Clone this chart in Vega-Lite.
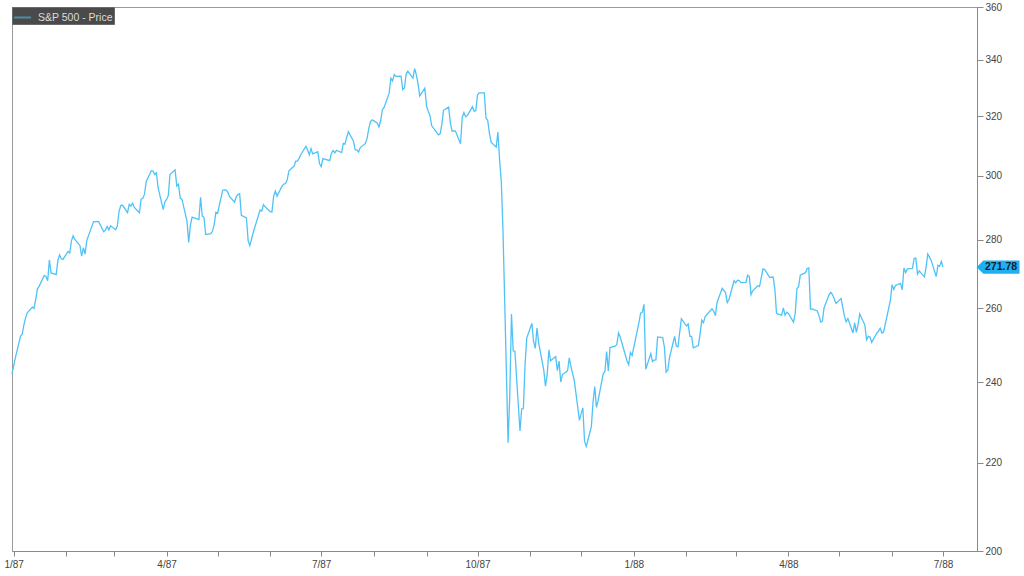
{
  "$schema": "https://vega.github.io/schema/vega-lite/v6.json",
  "width": 965,
  "height": 544,
  "padding": {"left": 3, "top": 2, "right": 0, "bottom": 0},
  "background": "white",
  "config": {
    "font": "Liberation Sans",
    "view": {"stroke": "#9a9a9a", "strokeWidth": 1}
  },
  "data": {"values": [
    {"date":"1986-12-31","close":242.17},
    {"date":"1987-01-02","close":246.45},{"date":"1987-01-05","close":252.19},{"date":"1987-01-06","close":252.78},{"date":"1987-01-07","close":255.33},{"date":"1987-01-08","close":257.28},{"date":"1987-01-09","close":258.73},
    {"date":"1987-01-12","close":260.30},{"date":"1987-01-13","close":259.95},{"date":"1987-01-14","close":262.64},{"date":"1987-01-15","close":265.49},{"date":"1987-01-16","close":266.28},
    {"date":"1987-01-19","close":269.34},{"date":"1987-01-20","close":269.04},{"date":"1987-01-21","close":267.84},{"date":"1987-01-22","close":273.91},{"date":"1987-01-23","close":270.10},
    {"date":"1987-01-26","close":269.61},{"date":"1987-01-27","close":273.75},{"date":"1987-01-28","close":275.40},{"date":"1987-01-29","close":274.24},{"date":"1987-01-30","close":274.08},
    {"date":"1987-02-02","close":276.45},{"date":"1987-02-03","close":275.99},{"date":"1987-02-04","close":279.64},{"date":"1987-02-05","close":281.16},{"date":"1987-02-06","close":280.04},
    {"date":"1987-02-09","close":278.16},{"date":"1987-02-10","close":275.07},{"date":"1987-02-11","close":277.54},{"date":"1987-02-12","close":275.62},{"date":"1987-02-13","close":279.70},
    {"date":"1987-02-17","close":285.49},{"date":"1987-02-18","close":285.42},{"date":"1987-02-19","close":285.57},{"date":"1987-02-20","close":285.48},
    {"date":"1987-02-23","close":282.38},{"date":"1987-02-24","close":282.88},{"date":"1987-02-25","close":284.00},{"date":"1987-02-26","close":282.96},{"date":"1987-02-27","close":284.20},
    {"date":"1987-03-02","close":283.00},{"date":"1987-03-03","close":284.12},{"date":"1987-03-04","close":288.62},{"date":"1987-03-05","close":290.52},{"date":"1987-03-06","close":290.66},
    {"date":"1987-03-09","close":288.30},{"date":"1987-03-10","close":290.86},{"date":"1987-03-11","close":290.31},{"date":"1987-03-12","close":291.22},{"date":"1987-03-13","close":289.89},
    {"date":"1987-03-16","close":288.23},{"date":"1987-03-17","close":292.47},{"date":"1987-03-18","close":292.78},{"date":"1987-03-19","close":294.08},{"date":"1987-03-20","close":298.17},
    {"date":"1987-03-23","close":301.64},{"date":"1987-03-24","close":301.52},{"date":"1987-03-25","close":300.38},{"date":"1987-03-26","close":300.93},{"date":"1987-03-27","close":296.13},
    {"date":"1987-03-30","close":289.20},{"date":"1987-03-31","close":291.70},{"date":"1987-04-01","close":292.39},{"date":"1987-04-02","close":293.63},{"date":"1987-04-03","close":300.41},
    {"date":"1987-04-06","close":301.95},{"date":"1987-04-07","close":296.69},{"date":"1987-04-08","close":297.26},{"date":"1987-04-09","close":292.86},{"date":"1987-04-10","close":292.49},
    {"date":"1987-04-13","close":285.62},{"date":"1987-04-14","close":279.16},{"date":"1987-04-15","close":284.44},{"date":"1987-04-16","close":286.91},
    {"date":"1987-04-20","close":286.09},{"date":"1987-04-21","close":293.07},{"date":"1987-04-22","close":287.19},{"date":"1987-04-23","close":286.82},{"date":"1987-04-24","close":281.52},
    {"date":"1987-04-27","close":281.83},{"date":"1987-04-28","close":282.51},{"date":"1987-04-29","close":284.57},{"date":"1987-04-30","close":288.36},{"date":"1987-05-01","close":288.03},
    {"date":"1987-05-04","close":295.34},{"date":"1987-05-05","close":295.47},{"date":"1987-05-06","close":295.39},{"date":"1987-05-07","close":294.71},{"date":"1987-05-08","close":293.37},
    {"date":"1987-05-11","close":291.57},{"date":"1987-05-12","close":293.30},{"date":"1987-05-13","close":293.98},{"date":"1987-05-14","close":294.24},{"date":"1987-05-15","close":287.43},
    {"date":"1987-05-18","close":286.65},{"date":"1987-05-19","close":279.62},{"date":"1987-05-20","close":278.21},{"date":"1987-05-21","close":280.17},{"date":"1987-05-22","close":282.16},
    {"date":"1987-05-26","close":289.11},{"date":"1987-05-27","close":288.73},{"date":"1987-05-28","close":290.76},{"date":"1987-05-29","close":290.10},
    {"date":"1987-06-01","close":288.56},{"date":"1987-06-02","close":288.46},{"date":"1987-06-03","close":293.47},{"date":"1987-06-04","close":295.09},{"date":"1987-06-05","close":293.45},
    {"date":"1987-06-08","close":296.72},{"date":"1987-06-09","close":297.28},{"date":"1987-06-10","close":297.47},{"date":"1987-06-11","close":298.73},{"date":"1987-06-12","close":301.62},
    {"date":"1987-06-15","close":303.14},{"date":"1987-06-16","close":304.76},{"date":"1987-06-17","close":304.81},{"date":"1987-06-18","close":305.69},{"date":"1987-06-19","close":306.97},
    {"date":"1987-06-22","close":309.65},{"date":"1987-06-23","close":308.43},{"date":"1987-06-24","close":306.86},{"date":"1987-06-25","close":308.96},{"date":"1987-06-26","close":307.16},
    {"date":"1987-06-29","close":307.90},{"date":"1987-06-30","close":304.00},{"date":"1987-07-01","close":302.94},{"date":"1987-07-02","close":305.63},
    {"date":"1987-07-06","close":304.92},{"date":"1987-07-07","close":307.40},{"date":"1987-07-08","close":308.29},{"date":"1987-07-09","close":307.52},{"date":"1987-07-10","close":308.37},
    {"date":"1987-07-13","close":307.63},{"date":"1987-07-14","close":310.68},{"date":"1987-07-15","close":310.42},{"date":"1987-07-16","close":312.70},{"date":"1987-07-17","close":314.59},
    {"date":"1987-07-20","close":311.39},{"date":"1987-07-21","close":308.55},{"date":"1987-07-22","close":308.47},{"date":"1987-07-23","close":307.81},{"date":"1987-07-24","close":309.27},
    {"date":"1987-07-27","close":310.65},{"date":"1987-07-28","close":312.33},{"date":"1987-07-29","close":315.65},{"date":"1987-07-30","close":318.05},{"date":"1987-07-31","close":318.66},
    {"date":"1987-08-03","close":317.57},{"date":"1987-08-04","close":316.23},{"date":"1987-08-05","close":318.45},{"date":"1987-08-06","close":322.10},{"date":"1987-08-07","close":323.00},
    {"date":"1987-08-10","close":328.00},{"date":"1987-08-11","close":333.33},{"date":"1987-08-12","close":332.39},{"date":"1987-08-13","close":334.65},{"date":"1987-08-14","close":333.99},
    {"date":"1987-08-17","close":334.11},{"date":"1987-08-18","close":329.25},{"date":"1987-08-19","close":329.83},{"date":"1987-08-20","close":334.84},{"date":"1987-08-21","close":335.90},
    {"date":"1987-08-24","close":333.33},{"date":"1987-08-25","close":336.77},{"date":"1987-08-26","close":334.57},{"date":"1987-08-27","close":331.38},{"date":"1987-08-28","close":327.04},
    {"date":"1987-08-31","close":329.80},{"date":"1987-09-01","close":323.40},{"date":"1987-09-02","close":321.68},{"date":"1987-09-03","close":320.21},{"date":"1987-09-04","close":316.70},
    {"date":"1987-09-08","close":313.56},{"date":"1987-09-09","close":313.92},{"date":"1987-09-10","close":317.13},{"date":"1987-09-11","close":321.98},
    {"date":"1987-09-14","close":323.08},{"date":"1987-09-15","close":317.74},{"date":"1987-09-16","close":314.86},{"date":"1987-09-17","close":314.93},{"date":"1987-09-18","close":314.86},
    {"date":"1987-09-21","close":310.54},{"date":"1987-09-22","close":319.50},{"date":"1987-09-23","close":321.19},{"date":"1987-09-24","close":319.72},{"date":"1987-09-25","close":320.16},
    {"date":"1987-09-28","close":323.20},{"date":"1987-09-29","close":321.69},{"date":"1987-09-30","close":321.83},{"date":"1987-10-01","close":327.33},{"date":"1987-10-02","close":328.07},
    {"date":"1987-10-05","close":328.08},{"date":"1987-10-06","close":319.22},{"date":"1987-10-07","close":318.54},{"date":"1987-10-08","close":314.16},{"date":"1987-10-09","close":311.07},
    {"date":"1987-10-12","close":309.39},{"date":"1987-10-13","close":314.52},{"date":"1987-10-14","close":305.23},{"date":"1987-10-15","close":298.08},{"date":"1987-10-16","close":282.70},
    {"date":"1987-10-19","close":224.84},{"date":"1987-10-20","close":236.83},{"date":"1987-10-21","close":258.38},{"date":"1987-10-22","close":248.25},{"date":"1987-10-23","close":248.22},
    {"date":"1987-10-26","close":227.67},{"date":"1987-10-27","close":233.19},{"date":"1987-10-28","close":233.28},{"date":"1987-10-29","close":244.77},{"date":"1987-10-30","close":251.79},
    {"date":"1987-11-02","close":255.75},{"date":"1987-11-03","close":250.82},{"date":"1987-11-04","close":248.96},{"date":"1987-11-05","close":254.48},{"date":"1987-11-06","close":250.41},
    {"date":"1987-11-09","close":243.17},{"date":"1987-11-10","close":239.00},{"date":"1987-11-11","close":241.90},{"date":"1987-11-12","close":248.52},{"date":"1987-11-13","close":245.64},
    {"date":"1987-11-16","close":246.76},{"date":"1987-11-17","close":243.04},{"date":"1987-11-18","close":245.55},{"date":"1987-11-19","close":240.05},{"date":"1987-11-20","close":242.00},
    {"date":"1987-11-23","close":242.99},{"date":"1987-11-24","close":246.39},{"date":"1987-11-25","close":244.10},{"date":"1987-11-27","close":240.34},
    {"date":"1987-11-30","close":230.30},{"date":"1987-12-01","close":232.00},{"date":"1987-12-02","close":233.45},{"date":"1987-12-03","close":225.21},{"date":"1987-12-04","close":223.92},
    {"date":"1987-12-07","close":228.76},{"date":"1987-12-08","close":234.91},{"date":"1987-12-09","close":238.89},{"date":"1987-12-10","close":233.57},{"date":"1987-12-11","close":235.32},
    {"date":"1987-12-14","close":242.19},{"date":"1987-12-15","close":242.81},{"date":"1987-12-16","close":248.08},{"date":"1987-12-17","close":242.98},{"date":"1987-12-18","close":249.16},
    {"date":"1987-12-21","close":249.54},{"date":"1987-12-22","close":249.95},{"date":"1987-12-23","close":253.16},{"date":"1987-12-24","close":252.03},
    {"date":"1987-12-28","close":245.57},{"date":"1987-12-29","close":244.59},{"date":"1987-12-30","close":247.86},{"date":"1987-12-31","close":247.08},
    {"date":"1988-01-04","close":255.94},{"date":"1988-01-05","close":258.63},{"date":"1988-01-06","close":258.89},{"date":"1988-01-07","close":261.07},{"date":"1988-01-08","close":243.40},
    {"date":"1988-01-11","close":247.49},{"date":"1988-01-12","close":245.42},{"date":"1988-01-13","close":245.81},{"date":"1988-01-14","close":245.88},{"date":"1988-01-15","close":252.05},
    {"date":"1988-01-18","close":251.88},{"date":"1988-01-19","close":249.32},{"date":"1988-01-20","close":242.63},{"date":"1988-01-21","close":243.14},{"date":"1988-01-22","close":246.50},
    {"date":"1988-01-25","close":252.17},{"date":"1988-01-26","close":249.57},{"date":"1988-01-27","close":249.38},{"date":"1988-01-28","close":253.29},{"date":"1988-01-29","close":257.07},
    {"date":"1988-02-01","close":255.04},{"date":"1988-02-02","close":255.57},{"date":"1988-02-03","close":252.21},{"date":"1988-02-04","close":252.21},{"date":"1988-02-05","close":249.10},
    {"date":"1988-02-08","close":249.70},{"date":"1988-02-09","close":252.80},{"date":"1988-02-10","close":256.66},{"date":"1988-02-11","close":255.95},{"date":"1988-02-12","close":257.63},
    {"date":"1988-02-16","close":259.83},{"date":"1988-02-17","close":259.21},{"date":"1988-02-18","close":257.91},{"date":"1988-02-19","close":261.61},
    {"date":"1988-02-22","close":265.64},{"date":"1988-02-23","close":265.02},{"date":"1988-02-24","close":264.43},{"date":"1988-02-25","close":261.58},{"date":"1988-02-26","close":262.46},
    {"date":"1988-02-29","close":267.82},{"date":"1988-03-01","close":267.22},{"date":"1988-03-02","close":267.98},{"date":"1988-03-03","close":267.88},{"date":"1988-03-04","close":267.30},
    {"date":"1988-03-07","close":267.38},{"date":"1988-03-08","close":269.43},{"date":"1988-03-09","close":269.06},{"date":"1988-03-10","close":263.84},{"date":"1988-03-11","close":264.94},
    {"date":"1988-03-14","close":266.37},{"date":"1988-03-15","close":266.13},{"date":"1988-03-16","close":268.65},{"date":"1988-03-17","close":271.22},{"date":"1988-03-18","close":271.12},
    {"date":"1988-03-21","close":268.74},{"date":"1988-03-22","close":268.84},{"date":"1988-03-23","close":268.91},{"date":"1988-03-24","close":265.50},{"date":"1988-03-25","close":258.51},
    {"date":"1988-03-28","close":258.06},{"date":"1988-03-29","close":260.07},{"date":"1988-03-30","close":258.07},{"date":"1988-03-31","close":258.89},{"date":"1988-04-01","close":258.51},
    {"date":"1988-04-04","close":256.09},{"date":"1988-04-05","close":258.51},{"date":"1988-04-06","close":265.49},{"date":"1988-04-07","close":266.16},{"date":"1988-04-08","close":269.43},
    {"date":"1988-04-11","close":270.16},{"date":"1988-04-12","close":271.37},{"date":"1988-04-13","close":271.58},{"date":"1988-04-14","close":259.75},{"date":"1988-04-15","close":259.77},
    {"date":"1988-04-18","close":259.21},{"date":"1988-04-19","close":257.92},{"date":"1988-04-20","close":256.13},{"date":"1988-04-21","close":256.42},{"date":"1988-04-22","close":260.14},
    {"date":"1988-04-25","close":263.93},{"date":"1988-04-26","close":264.48},{"date":"1988-04-27","close":263.80},{"date":"1988-04-28","close":262.61},{"date":"1988-04-29","close":261.33},
    {"date":"1988-05-02","close":262.70},{"date":"1988-05-03","close":260.20},{"date":"1988-05-04","close":257.70},{"date":"1988-05-05","close":256.20},{"date":"1988-05-06","close":257.10},
    {"date":"1988-05-09","close":253.10},{"date":"1988-05-10","close":255.90},{"date":"1988-05-11","close":253.30},{"date":"1988-05-12","close":255.50},{"date":"1988-05-13","close":258.40},
    {"date":"1988-05-16","close":255.30},{"date":"1988-05-17","close":251.30},{"date":"1988-05-18","close":252.20},{"date":"1988-05-19","close":252.00},{"date":"1988-05-20","close":250.60},
    {"date":"1988-05-23","close":253.10},{"date":"1988-05-24","close":253.60},{"date":"1988-05-25","close":254.40},{"date":"1988-05-26","close":253.10},{"date":"1988-05-27","close":253.40},
    {"date":"1988-05-31","close":262.16},{"date":"1988-06-01","close":266.69},{"date":"1988-06-02","close":265.33},{"date":"1988-06-03","close":266.45},
    {"date":"1988-06-06","close":267.05},{"date":"1988-06-07","close":265.17},{"date":"1988-06-08","close":271.52},{"date":"1988-06-09","close":270.20},{"date":"1988-06-10","close":271.26},
    {"date":"1988-06-13","close":271.43},{"date":"1988-06-14","close":274.30},{"date":"1988-06-15","close":274.45},{"date":"1988-06-16","close":269.77},{"date":"1988-06-17","close":270.68},
    {"date":"1988-06-20","close":268.94},{"date":"1988-06-21","close":271.67},{"date":"1988-06-22","close":275.66},{"date":"1988-06-23","close":274.82},{"date":"1988-06-24","close":273.78},
    {"date":"1988-06-27","close":269.06},{"date":"1988-06-28","close":272.31},{"date":"1988-06-29","close":272.02},{"date":"1988-06-30","close":273.50},{"date":"1988-07-01","close":271.78}
  ]},
  "encoding": {
    "x": {
      "field": "date", "type": "temporal",
      "scale": {"type": "utc", "domain": [{"year": 1986, "month": 12, "date": 31, "utc": true}, {"year": 1988, "month": 7, "date": 21, "utc": true}]},
      "axis": {
        "title": null, "grid": false,
        "tickCount": {"interval": "month", "step": 1},
        "labelExpr": "utcmonth(datum.value) % 3 == 0 ? utcFormat(datum.value, '%-m/%y') : ''",
        "labelOverlap": false, "labelFlush": false, "labelBound": false,
        "domainColor": "#8a8a8a", "tickColor": "#8a8a8a", "tickSize": 5,
        "labelColor": "#444444", "labelFontSize": 10, "labelFont": "Liberation Sans Narrow, Liberation Sans", "labelPadding": 3
      }
    },
    "y": {
      "field": "close", "type": "quantitative",
      "scale": {"type": "log", "domain": [200, 360], "nice": false, "zero": false},
      "axis": {
        "orient": "right", "title": null, "grid": false,
        "values": [200, 220, 240, 260, 280, 300, 320, 340, 360],
        "domainColor": "#8a8a8a", "tickColor": "#8a8a8a", "tickSize": 6,
        "labelColor": "#444444", "labelFontSize": 10, "labelFont": "Liberation Sans", "labelPadding": 2,
        "labelOverlap": false, "labelBound": false, "labelFlush": false
      }
    }
  },
  "layer": [
    {
      "mark": {"type": "line", "strokeWidth": 1.3, "interpolate": "linear"},
      "encoding": {
        "color": {
          "datum": "S&P 500 - Price",
          "scale": {"range": ["#4fc3f7"]},
          "legend": {
            "title": null, "orient": "top-left", "offset": 0, "padding": 1,
            "fillColor": "#4a4a4a", "strokeColor": "#6a6a6a",
            "labelColor": "#dcdcdc", "labelFontSize": 10.5, "labelFont": "Liberation Sans",
            "symbolType": "stroke", "symbolSize": 289, "symbolStrokeWidth": 2, "symbolOpacity": 0.55,
            "labelOffset": 6, "rowPadding": 0
          }
        }
      }
    },
    {
      "transform": [{"filter": "utcyear(datum.date) == 1988 && utcmonth(datum.date) == 6"}],
      "mark": {"type": "point", "shape": "M -1 0 L -0.68 -0.31 L 1 -0.31 L 1 0.31 L -0.68 0.31 Z", "size": 1849, "filled": true, "opacity": 1, "color": "#1fb0f0", "strokeWidth": 0, "xOffset": 55, "clip": false}
    },
    {
      "transform": [{"filter": "utcyear(datum.date) == 1988 && utcmonth(datum.date) == 6"}],
      "mark": {"type": "text", "xOffset": 58, "align": "center", "baseline": "middle", "fontWeight": "bold", "fontSize": 10.5, "font": "Liberation Sans", "color": "#0c2233", "clip": false},
      "encoding": {"text": {"field": "close", "type": "quantitative", "format": ".2f"}}
    }
  ]
}
